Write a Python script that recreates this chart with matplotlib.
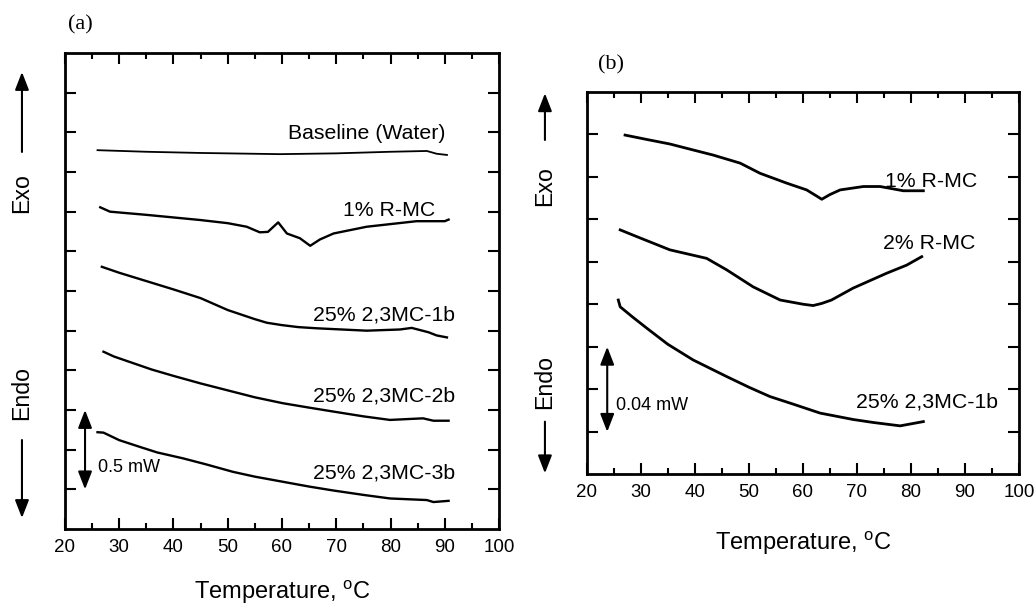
import matplotlib
matplotlib.use('Agg')
import matplotlib.pyplot as plt
from matplotlib.patches import FancyArrowPatch
from matplotlib.ticker import MultipleLocator

plt.rcParams['font.family'] = ['Liberation Sans', 'DejaVu Sans']
plt.rcParams['mathtext.fontset'] = 'custom'
plt.rcParams['mathtext.rm'] = 'Liberation Sans'

# ---- panel (a) data (temperature in C, signal in arbitrary offset units)
a_base_T = [26.0, 35.0, 45.0, 59.6, 70.0, 80.0, 86.7, 88.5, 90.4]
a_base_y = [9.55, 9.51, 9.48, 9.45, 9.47, 9.51, 9.53, 9.46, 9.43]

a_rmc1_T = [26.5, 28.3, 35.0, 44.9, 50.0, 53.5, 55.9, 57.4, 59.3, 60.9, 63.3, 65.2, 67.0, 69.5, 75.6, 84.8, 90.0, 90.7]
a_rmc1_y = [8.11, 8.00, 7.92, 7.79, 7.71, 7.62, 7.48, 7.49, 7.73, 7.45, 7.33, 7.14, 7.30, 7.45, 7.62, 7.76, 7.76, 7.80]

a_1b_T = [26.8, 30.0, 35.0, 40.0, 45.0, 50.0, 55.0, 57.2, 60.0, 63.0, 66.4, 75.6, 81.75, 83.9, 87.0, 88.5, 90.4]
a_1b_y = [6.61, 6.46, 6.25, 6.04, 5.82, 5.52, 5.29, 5.20, 5.14, 5.09, 5.06, 5.00, 5.03, 5.07, 4.96, 4.88, 4.83]

a_2b_T = [27.1, 29.0, 32.6, 36.0, 40.0, 45.0, 51.0, 55.0, 60.2, 65.0, 69.5, 75.0, 79.9, 86.0, 87.9, 90.7]
a_2b_y = [4.47, 4.35, 4.18, 4.02, 3.86, 3.67, 3.46, 3.32, 3.17, 3.06, 2.96, 2.84, 2.75, 2.79, 2.73, 2.73]

a_3b_T = [26.0, 27.1, 30.0, 33.8, 37.0, 41.8, 46.0, 51.0, 55.0, 60.2, 65.0, 69.5, 75.0, 79.9, 86.7, 87.9, 90.7]
a_3b_y = [2.44, 2.43, 2.24, 2.07, 1.93, 1.78, 1.63, 1.44, 1.32, 1.19, 1.07, 0.97, 0.86, 0.77, 0.73, 0.68, 0.71]

# ---- panel (b) data
b_rmc1_T = [27.1, 31.0, 35.4, 40.0, 43.4, 48.4, 52.1, 57.0, 60.7, 62.5, 63.5, 65.0, 66.9, 71.2, 74.3, 78.6, 82.3]
b_rmc1_y = [7.98, 7.88, 7.77, 7.62, 7.51, 7.32, 7.08, 6.85, 6.69, 6.55, 6.47, 6.58, 6.69, 6.77, 6.77, 6.67, 6.67]

b_rmc2_T = [26.2, 29.3, 35.4, 42.2, 45.9, 50.8, 55.8, 60.1, 61.9, 63.5, 65.3, 69.3, 75.5, 79.2, 82.0]
b_rmc2_y = [5.75, 5.59, 5.28, 5.08, 4.81, 4.41, 4.10, 4.00, 3.97, 4.02, 4.10, 4.38, 4.73, 4.92, 5.12]

b_1b_T = [25.85, 26.2, 28.5, 31.1, 35.0, 39.7, 45.9, 50.0, 53.9, 58.0, 63.2, 69.3, 73.0, 78.0, 82.3]
b_1b_y = [4.10, 3.94, 3.70, 3.44, 3.06, 2.69, 2.30, 2.05, 1.83, 1.66, 1.44, 1.29, 1.22, 1.14, 1.24]

x_ticks = [20, 30, 40, 50, 60, 70, 80, 90, 100]

fig = plt.figure(figsize=(10.36, 6.05), dpi=100)
ax_a = fig.add_axes([0.0627, 0.1256, 0.4190, 0.7868])
ax_b = fig.add_axes([0.5663, 0.2160, 0.4173, 0.6324])


def style_axes(ax, ymax, labelpad):
    ax.set_xlim(20, 100)
    ax.set_ylim(0, ymax)
    ax.set_xticks(x_ticks)
    ax.xaxis.set_minor_locator(MultipleLocator(5))
    ax.set_yticks(range(1, ymax))
    ax.set_yticklabels([])
    ax.tick_params(which='both', direction='in', top=True, right=True, width=1.5)
    ax.tick_params(which='major', length=8, labelsize=13.5, pad=7)
    ax.tick_params(which='minor', length=4)
    for s in ax.spines.values():
        s.set_linewidth(2)
    ax.set_xlabel(r'Temperature, $^{\mathrm{o}}$C', fontsize=17, labelpad=labelpad)


style_axes(ax_a, 12, 16)
style_axes(ax_b, 9, 20)

# panel (a) curves
ax_a.plot(a_base_T, a_base_y, color='k', lw=1.3)
for T, y in [(a_rmc1_T, a_rmc1_y), (a_1b_T, a_1b_y), (a_2b_T, a_2b_y), (a_3b_T, a_3b_y)]:
    ax_a.plot(T, y, color='k', lw=1.7)

lab_kw = dict(fontsize=15.3, ha='right', va='center')
ax_a.text(90.2, 9.97, 'Baseline (Water)', **lab_kw)
ax_a.text(88.3, 8.02, '1% R-MC', **lab_kw)
ax_a.text(91.9, 5.40, '25% 2,3MC-1b', **lab_kw)
ax_a.text(91.9, 3.35, '25% 2,3MC-2b', **lab_kw)
ax_a.text(91.9, 1.41, '25% 2,3MC-3b', **lab_kw)

bar = dict(arrowstyle='<|-|>,head_length=0.9,head_width=0.35',
           mutation_scale=12, lw=1.5, color='k', shrinkA=0, shrinkB=0)
ax_a.annotate('', xy=(23.7, 1), xytext=(23.7, 3), arrowprops=bar)
ax_a.text(26.1, 1.55, '0.5 mW', fontsize=13, ha='left', va='center')

# panel (b) curves
for T, y in [(b_rmc1_T, b_rmc1_y), (b_rmc2_T, b_rmc2_y), (b_1b_T, b_1b_y)]:
    ax_b.plot(T, y, color='k', lw=2)

ax_b.text(92.2, 6.88, '1% R-MC', **lab_kw)
ax_b.text(92.0, 5.44, '2% R-MC', **lab_kw)
ax_b.text(96.2, 1.71, '25% 2,3MC-1b', **lab_kw)

ax_b.annotate('', xy=(23.8, 1), xytext=(23.8, 3), arrowprops=bar)
ax_b.text(25.4, 1.61, '0.04 mW', fontsize=13, ha='left', va='center')

# panel letters
fig.text(0.0656, 0.9587, '(a)', family='Liberation Serif', fontsize=16, va='center')
fig.text(0.5772, 0.8926, '(b)', family='Liberation Serif', fontsize=16, va='center')


# Exo / Endo side labels with arrows
def side_label(x, y_exo, y_endo, up, down):
    fig.text(x, y_exo, 'Exo', rotation=90, fontsize=16.7, ha='center', va='center')
    fig.text(x, y_endo, 'Endo', rotation=90, fontsize=16.7, ha='center', va='center')
    arr = dict(arrowstyle='-|>,head_length=0.9,head_width=0.35', mutation_scale=12,
               lw=1.5, color='k', shrinkA=0, shrinkB=0)
    fig.add_artist(FancyArrowPatch((x, up[0]), (x, up[1]), transform=fig.transFigure, **arr))
    fig.add_artist(FancyArrowPatch((x, down[0]), (x, down[1]), transform=fig.transFigure, **arr))


side_label(0.0212, 0.681, 0.3504, (0.7488, 0.881), (0.2727, 0.1438))
side_label(0.5260, 0.6926, 0.3691, (0.7686, 0.8458), (0.3030, 0.2177))

fig.savefig('out.png', dpi=100)
